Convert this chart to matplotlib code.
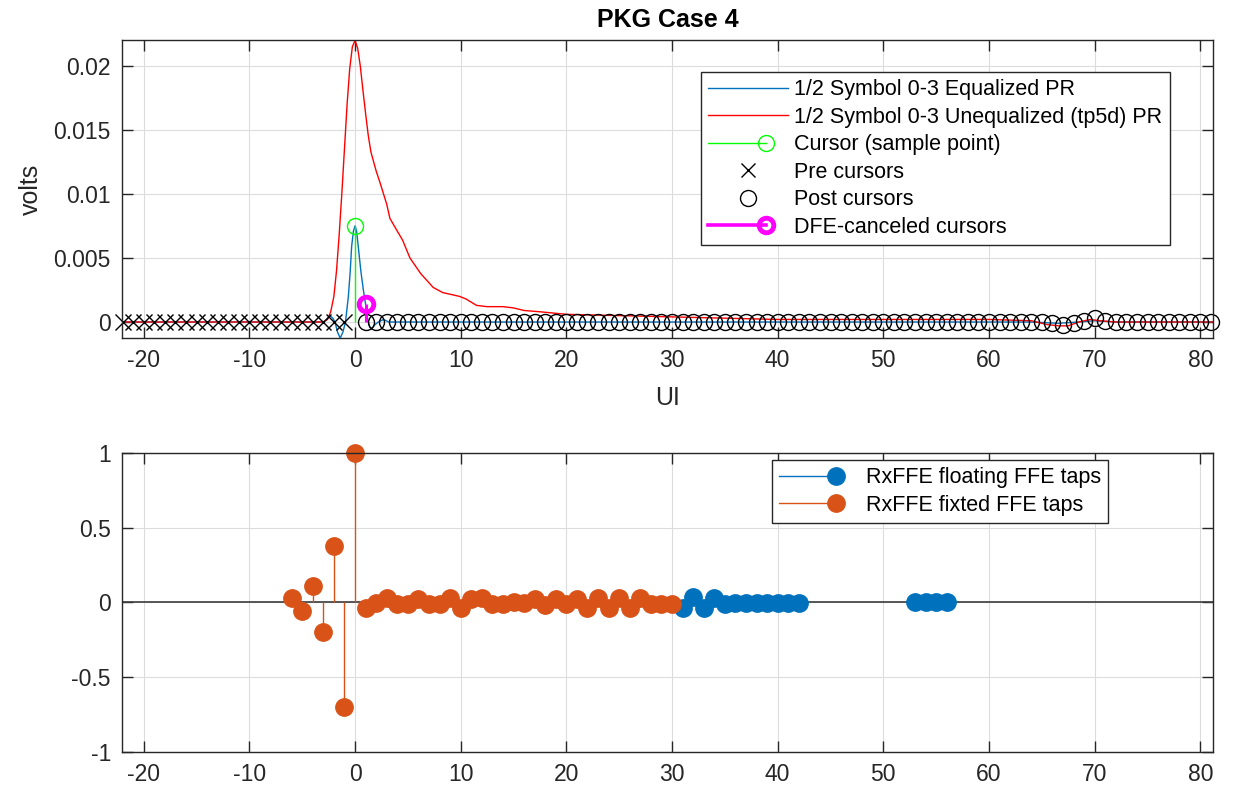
import matplotlib
matplotlib.use("Agg")
import matplotlib.pyplot as plt
from matplotlib.lines import Line2D
from matplotlib.legend_handler import HandlerBase

plt.rcParams['font.family'] = ['Liberation Sans', 'DejaVu Sans']
plt.rcParams['axes.unicode_minus'] = False

# ---- top panel: pulse responses (UI, volts) ----
eq_ui = [-23, -3.0, -2.7, -2.4, -2.1, -1.9, -1.65, -1.4, -1.15, -0.9, -0.63, -0.45,
         -0.32, -0.15, 0.0, 0.15, 0.32, 0.55, 0.79, 1.0, 1.2, 1.4, 1.6, 1.9, 2.2,
         2.7, 3.2, 64.0, 66.5, 68.5, 70.0, 72.0, 82.0]
eq_v = [0.0, 0.0, 0.0002, 0.0005, 0.0003, 0.0, -0.0008, -0.00125, -0.0008, 0.0,
        0.0020, 0.0040, 0.0059, 0.0071, 0.0075, 0.0071, 0.0058, 0.0040, 0.0025,
        0.0014, 0.0002, -0.0004, -0.0005, -0.0002, 0.0, 0.0002, 0.0, 0.0, -0.0001,
        0.0, 0.0001, 0.0, 0.0]

uneq_ui = [-23, -3.0, -2.6, -2.3, -2.0, -1.75, -1.5, -1.25, -1.0, -0.75, -0.5, -0.25,
           0.0, 0.25, 0.5, 0.75, 1.0, 1.25, 1.5, 2.0, 2.4, 3.0, 3.3, 4.0, 4.5, 5.2,
           6.2, 7.4, 8.3, 9.9, 10.5, 11.5, 12.5, 14.0, 15.0, 16.0, 17.5, 20.0, 25.0,
           30.0, 35.0, 40.0, 50.0, 60.0, 64.0, 65.5, 66.6, 67.5, 68.5, 69.6, 70.5,
           72.0, 82.0]
uneq_v = [0.0, 0.0, 0.0002, 0.0008, 0.0020, 0.0040, 0.0068, 0.0100, 0.0135, 0.0170,
          0.0198, 0.0215, 0.0220, 0.0214, 0.0200, 0.0181, 0.0163, 0.0146, 0.0133,
          0.0118, 0.0108, 0.0092, 0.0081, 0.0071, 0.0064, 0.0050, 0.0038, 0.0027,
          0.0023, 0.0020, 0.0018, 0.0013, 0.0012, 0.0012, 0.0011, 0.0009, 0.0008,
          0.0006, 0.0005, 0.0004, 0.0003, 0.0002, 0.0002, 0.0002, 0.0001, -0.0002,
          -0.0003, -0.0003, 0.0, 0.0002, 0.0001, 0.0, 0.0]

cursor_ui = [0]
cursor_v = [0.0075]
pre_ui = list(range(-22, 0))
pre_v = [0.0, 0.0, 0.0, 0.0, 0.0, 0.0, 0.0, 0.0, 0.0, 0.0, 0.0,
         0.0, 0.0, 0.0, 0.0, 0.0, 0.0, 0.0, 0.0, 0.0, 0.0, 0.0]
post_ui = list(range(1, 82))
post_v = [0.0, 0.0, 0.0, 0.0, 0.0, 0.0, 0.0, 0.0, 0.0, 0.0,
          0.0, 0.0, 0.0, 0.0, 0.0, 0.0, 0.0, 0.0, 0.0, 0.0,
          0.0, 0.0, 0.0, 0.0, 0.0, 0.0, 0.0, 0.0, 0.0, 0.0,
          0.0, 0.0, 0.0, 0.0, 0.0, 0.0, 0.0, 0.0, 0.0, 0.0,
          0.0, 0.0, 0.0, 0.0, 0.0, 0.0, 0.0, 0.0, 0.0, 0.0,
          0.0, 0.0, 0.0, 0.0, 0.0, 0.0, 0.0, 0.0, 0.0, 0.0,
          0.0, 0.0, 0.0, 0.0, 0.0, -0.0001, -0.0002, -0.0001, 0.0001, 0.0003,
          0.0001, 0.0, 0.0, 0.0, 0.0, 0.0, 0.0, 0.0, 0.0, 0.0,
          0.0]
dfe_ui = [1]
dfe_v = [0.0014]

# ---- bottom panel: RxFFE taps ----
fixed_ui = list(range(-6, 31))
fixed_taps = [0.03, -0.06, 0.11, -0.2, 0.38, -0.7, 1.0,
              -0.038, -0.004, 0.029, -0.011, -0.011, 0.022, -0.011, -0.011, 0.027, -0.034,
              0.022, 0.027, -0.011, -0.011, 0.0, -0.004, 0.022, -0.015, 0.022, -0.011,
              0.022, -0.034, 0.027, -0.034, 0.027, -0.034, 0.027, -0.011, -0.011, -0.011]
float_ui = [31, 32, 33, 34, 35, 36, 37, 38, 39, 40, 41, 42, 53, 54, 55, 56]
float_taps = [-0.034, 0.034, -0.034, 0.027, -0.011, -0.006, -0.005, -0.004, -0.005,
              -0.004, -0.004, -0.003, 0.0, 0.0, 0.0, 0.0]

BLUE = '#0072BD'
ORANGE = '#D95319'
DARK = '#262626'


class StemHandler(HandlerBase):
    # MATLAB-style stem legend icon: line with the marker near the right end
    def create_artists(self, legend, orig_handle, xdescent, ydescent,
                       width, height, fontsize, trans):
        y = (height - ydescent) / 2
        x0 = -xdescent
        xm = x0 + 0.72 * width
        line = Line2D([x0, xm], [y, y], color=orig_handle.get_color(),
                      lw=orig_handle.get_linewidth(), transform=trans)
        mk = Line2D([xm], [y], ls='none', marker=orig_handle.get_marker(),
                    ms=orig_handle.get_markersize(),
                    mfc=orig_handle.get_markerfacecolor(),
                    mec=orig_handle.get_markeredgecolor(),
                    mew=orig_handle.get_markeredgewidth(), transform=trans)
        return [line, mk]


def style_axes(ax):
    ax.set_xlim(-22.05, 81.2)
    ax.set_xticks(range(-20, 81, 10))
    ax.grid(True, color='#dcdcdc', lw=0.8)
    ax.set_axisbelow(True)
    ax.tick_params(direction='in', length=8, width=1, colors=DARK,
                   labelsize=16.5, top=True, right=True, pad=8)
    for s in ax.spines.values():
        s.set_color(DARK)
        s.set_linewidth(1)


fig = plt.figure(figsize=(12.35, 7.87), dpi=100)
ax1 = fig.add_axes([0.0988, 0.5705, 0.8834, 0.3787])
ax2 = fig.add_axes([0.0988, 0.0445, 0.8834, 0.3799])

# top panel
ax1.plot(eq_ui, eq_v, color=BLUE, lw=1.0)
ax1.plot(uneq_ui, uneq_v, color='red', lw=1.0)
ax1.vlines(cursor_ui, 0, cursor_v, color=(0, 1, 0), lw=1.0)
ax1.plot(cursor_ui, cursor_v, ls='none', marker='o', ms=11.5, mfc='none',
         mec=(0, 1, 0), mew=1.0)
ax1.plot(pre_ui, pre_v, ls='none', marker='x', ms=12, color='black', mew=1.0,
         clip_on=False)
ax1.plot(post_ui, post_v, ls='none', marker='o', ms=11.5, mfc='none', mec='black',
         mew=1.0, clip_on=False)
ax1.vlines(dfe_ui, 0, dfe_v, color='magenta', lw=2.2)
ax1.plot(dfe_ui, dfe_v, ls='none', marker='o', ms=10.5, mfc='none', mec='magenta',
         mew=3.5)
style_axes(ax1)
ax1.set_ylim(-0.00125, 0.02203)
ax1.set_yticks([0, 0.005, 0.01, 0.015, 0.02])
ax1.set_yticklabels(['0', '0.005', '0.01', '0.015', '0.02'])
ax1.set_title('PKG Case 4', fontsize=18, fontweight='bold', color='black', pad=9)
ax1.set_xlabel('UI', fontsize=18, color=DARK, labelpad=10)
ax1.set_ylabel('volts', fontsize=18, color=DARK, labelpad=8)

h_eq = Line2D([], [], color=BLUE, lw=1.0)
h_uneq = Line2D([], [], color='red', lw=1.0)
h_cur = Line2D([], [], color=(0, 1, 0), lw=1.0, marker='o', ms=11.5, mfc='none',
               mec=(0, 1, 0), mew=1.0)
h_pre = Line2D([], [], ls='none', marker='x', ms=9.5, color='black', mew=1.0)
h_post = Line2D([], [], ls='none', marker='o', ms=11.5, mfc='none', mec='black', mew=1.0)
h_dfe = Line2D([], [], color='magenta', lw=2.6, marker='o', ms=10.5, mfc='none',
               mec='magenta', mew=3.5)
leg1 = ax1.legend([h_eq, h_uneq, h_cur, h_pre, h_post, h_dfe],
                  ['1/2 Symbol 0-3 Equalized PR',
                   '1/2 Symbol 0-3 Unequalized (tp5d) PR',
                   'Cursor (sample point)', 'Pre cursors', 'Post cursors',
                   'DFE-canceled cursors'],
                  handler_map={h_cur: StemHandler(), h_dfe: StemHandler()},
                  loc='upper right', bbox_to_anchor=(0.9606, 0.8936),
                  borderaxespad=0, fontsize=15.5, handlelength=3.7,
                  handletextpad=0.3, labelspacing=0.3, borderpad=0.35,
                  fancybox=False, framealpha=1, edgecolor=DARK)
leg1.get_frame().set_linewidth(1)

# bottom panel
ax2.axhline(0, color='#3c3c3c', lw=1.2, zorder=1.5)
ax2.vlines(float_ui, 0, float_taps, color=BLUE, lw=1.0, zorder=2)
ax2.plot(float_ui, float_taps, ls='none', marker='o', ms=12.5, color=BLUE, zorder=2.1)
ax2.vlines(fixed_ui, 0, fixed_taps, color=ORANGE, lw=1.0, zorder=2.2)
ax2.plot(fixed_ui, fixed_taps, ls='none', marker='o', ms=12.5, color=ORANGE,
         zorder=2.3, clip_on=False)
style_axes(ax2)
ax2.set_ylim(-1, 1)
ax2.set_yticks([-1, -0.5, 0, 0.5, 1])
ax2.set_yticklabels(['-1', '-0.5', '0', '0.5', '1'])

h_float = Line2D([], [], color=BLUE, lw=1.0, marker='o', ms=12.5, mfc=BLUE, mec=BLUE)
h_fixed = Line2D([], [], color=ORANGE, lw=1.0, marker='o', ms=12.5, mfc=ORANGE,
                 mec=ORANGE)
leg2 = ax2.legend([h_float, h_fixed],
                  ['RxFFE floating FFE taps', 'RxFFE fixted FFE taps'],
                  handler_map={h_float: StemHandler(), h_fixed: StemHandler()},
                  loc='upper right', bbox_to_anchor=(0.9038, 0.9766),
                  borderaxespad=0, fontsize=15.5, handlelength=3.7,
                  handletextpad=0.35, labelspacing=0.3, borderpad=0.33,
                  fancybox=False, framealpha=1, edgecolor=DARK)
leg2.get_frame().set_linewidth(1)

fig.savefig('out.png', dpi=100)
